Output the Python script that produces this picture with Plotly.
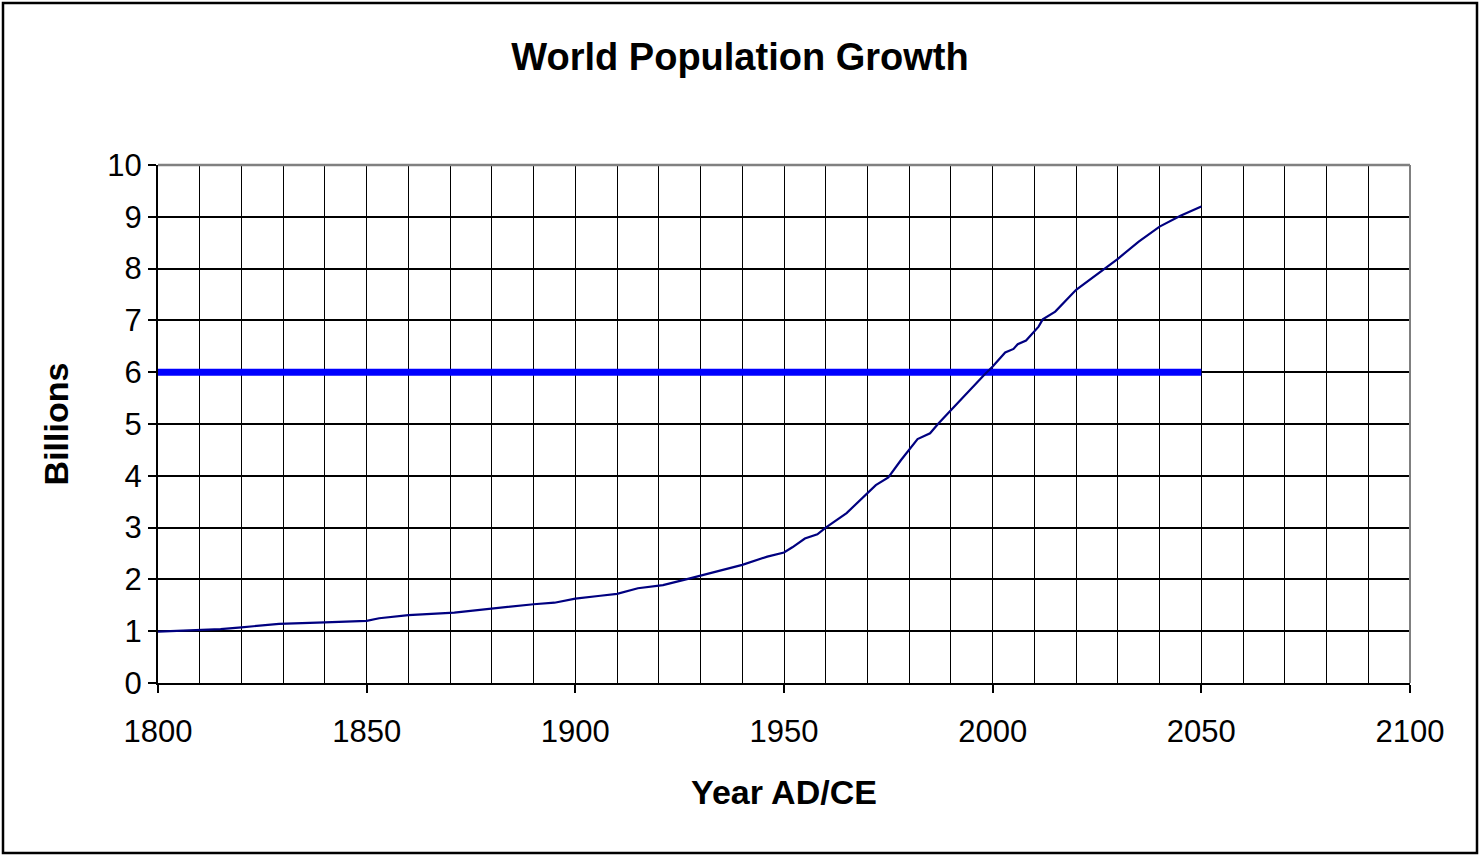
import plotly.graph_objects as go

# Data
years = [1800, 1804, 1815, 1820, 1829, 1840, 1850, 1853, 1860, 1871, 1880, 1890, 1895, 1900,
         1906, 1910, 1915, 1921, 1927, 1933, 1940, 1946, 1950, 1952, 1955, 1958, 1960, 1965,
         1970, 1972, 1975, 1978, 1982, 1985, 1987, 1993, 1996, 1998, 2000, 2003, 2005, 2006,
         2008, 2011, 2012, 2015, 2020, 2025, 2030, 2035, 2040, 2045, 2050]
population = [0.99, 1.0, 1.04, 1.075, 1.14, 1.17, 1.2, 1.25, 1.31, 1.36, 1.44, 1.52, 1.55, 1.63,
              1.685, 1.72, 1.83, 1.89, 2.01, 2.13, 2.28, 2.44, 2.52, 2.62, 2.79, 2.87, 3.0, 3.28,
              3.66, 3.82, 3.97, 4.3, 4.71, 4.82, 5.01, 5.53, 5.79, 5.95, 6.11, 6.38, 6.45, 6.54,
              6.61, 6.88, 7.02, 7.17, 7.59, 7.89, 8.19, 8.52, 8.81, 9.02, 9.2]
six_years = [1800, 2050]
six_level = [6, 6]

x_ticks = [1800, 1850, 1900, 1950, 2000, 2050, 2100]
y_ticks = list(range(0, 11))

FONT = "Liberation Sans, Arial, sans-serif"

fig = go.Figure()
fig.add_trace(go.Scatter(x=six_years, y=six_level, mode="lines",
                         line=dict(color="#0000FF", width=7), hoverinfo="skip"))
fig.add_trace(go.Scatter(x=years, y=population, mode="lines",
                         line=dict(color="#000080", width=2.2)))

W, H = 1480, 856
L, R, T, B = 158, 70, 165, 173
pw, ph = W - L - R, H - T - B

def px_x(p):
    return (p - L) / pw

def px_y(p):
    return (H - B - p) / ph

fig.update_layout(
    width=W, height=H,
    margin=dict(l=L, r=R, t=T, b=B),
    paper_bgcolor="white", plot_bgcolor="white",
    showlegend=False,
    font=dict(family=FONT, color="black"),
    title=dict(text="<b>World Population Growth</b>", x=0.5, xanchor="center",
               xref="container", y=1 - 57 / H, yanchor="middle",
               font=dict(size=38, family=FONT, color="black")),
    xaxis=dict(range=[1800, 2100], tickvals=x_ticks, ticktext=[str(v) for v in x_ticks],
               showgrid=False, zeroline=False,
               showline=True, linecolor="black", linewidth=2,
               ticks="outside", ticklen=8, tickwidth=2, tickcolor="black",
               tickfont=dict(size=31, family=FONT, color="black"),
               ticklabelstandoff=12,
               minor=dict(dtick=10, tick0=1800, showgrid=True, gridcolor="black", gridwidth=1,
                          ticks=""),
               title=dict(text="<b>Year AD/CE</b>", font=dict(size=34, family=FONT, color="black"),
                          standoff=32)),
    yaxis=dict(range=[0, 10], tickvals=y_ticks,
               showgrid=True, gridcolor="black", gridwidth=1.5, zeroline=False,
               showline=True, linecolor="black", linewidth=2,
               ticks="outside", ticklen=8, tickwidth=2, tickcolor="black",
               tickfont=dict(size=31, family=FONT, color="black"),
               ticklabelstandoff=0,
               title=dict(text="<b>Billions</b>", font=dict(size=34, family=FONT, color="black"),
                          standoff=28)),
    shapes=[
        dict(type="line", xref="paper", yref="paper", x0=0, x1=1, y0=1, y1=1,
             line=dict(color="#808080", width=2.5), layer="above"),
        dict(type="line", xref="paper", yref="paper", x0=1, x1=1, y0=0, y1=1,
             line=dict(color="#808080", width=2), layer="above"),
        dict(type="rect", xref="paper", yref="paper",
             x0=px_x(3), x1=px_x(1477), y0=px_y(853), y1=px_y(3),
             line=dict(color="black", width=2.5), fillcolor="rgba(0,0,0,0)"),
    ],
)

fig.write_html("out.html", config={"displayModeBar": False},
               post_script="document.body.style.margin='0';document.body.style.overflow='hidden';")
